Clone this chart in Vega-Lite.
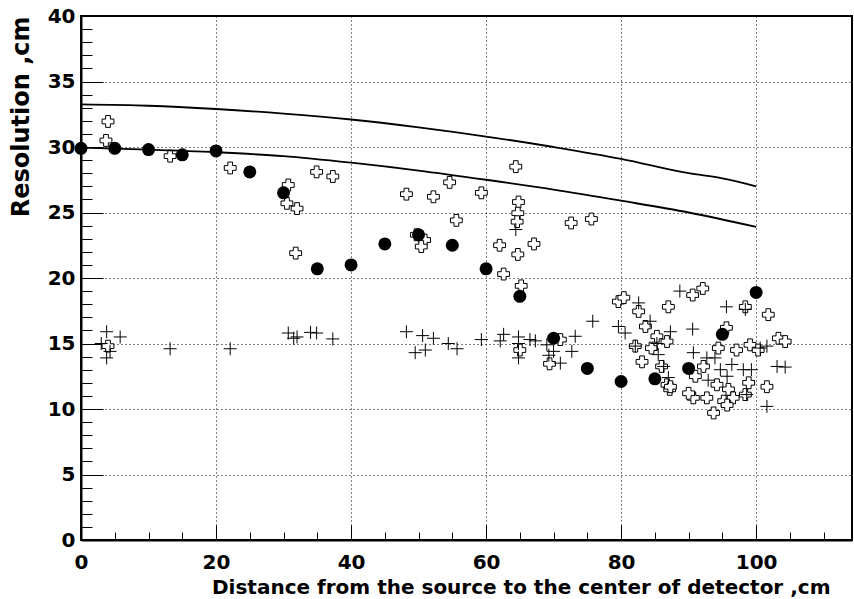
{
  "$schema": "https://vega.github.io/schema/vega-lite/v6.json",
  "width": 771,
  "height": 524,
  "autosize": {"type": "none"},
  "padding": {"left": 81, "top": 16, "right": 2, "bottom": 59},
  "background": "white",
  "config": {"view": {"stroke": "black", "strokeWidth": 2}, "font": "DejaVu Sans"},
  "datasets": {
    "dots": [
      {"x": 0, "y": 29.9}, {"x": 5, "y": 29.9}, {"x": 10, "y": 29.8}, {"x": 15, "y": 29.4},
      {"x": 20, "y": 29.7}, {"x": 25, "y": 28.1}, {"x": 30, "y": 26.5}, {"x": 35, "y": 20.7},
      {"x": 40, "y": 21.0}, {"x": 45, "y": 22.6}, {"x": 50, "y": 23.3}, {"x": 55, "y": 22.5},
      {"x": 60, "y": 20.7}, {"x": 65, "y": 18.6}, {"x": 70, "y": 15.4}, {"x": 75, "y": 13.1},
      {"x": 80, "y": 12.1}, {"x": 85, "y": 12.3}, {"x": 90, "y": 13.1}, {"x": 95, "y": 15.7},
      {"x": 100, "y": 18.9}
    ],
    "open": [
      {"x": 4.0, "y": 31.95}, {"x": 3.7, "y": 30.5}, {"x": 13.2, "y": 29.3}, {"x": 22.1, "y": 28.4},
      {"x": 30.7, "y": 27.1}, {"x": 30.5, "y": 25.7}, {"x": 32.0, "y": 25.3}, {"x": 34.9, "y": 28.1},
      {"x": 37.3, "y": 27.75}, {"x": 31.8, "y": 21.9}, {"x": 48.2, "y": 26.4}, {"x": 52.2, "y": 26.2},
      {"x": 54.6, "y": 27.3}, {"x": 59.3, "y": 26.5}, {"x": 55.6, "y": 24.4}, {"x": 49.7, "y": 23.3},
      {"x": 50.9, "y": 22.9}, {"x": 50.4, "y": 22.4}, {"x": 64.4, "y": 28.5}, {"x": 64.8, "y": 25.8},
      {"x": 64.7, "y": 24.95}, {"x": 64.6, "y": 24.3}, {"x": 62.0, "y": 22.5}, {"x": 67.1, "y": 22.6},
      {"x": 64.7, "y": 21.8}, {"x": 62.6, "y": 20.3}, {"x": 65.2, "y": 19.4}, {"x": 72.6, "y": 24.2},
      {"x": 75.6, "y": 24.5}, {"x": 4.0, "y": 14.8}, {"x": 65.0, "y": 14.5}, {"x": 69.4, "y": 13.45},
      {"x": 71.0, "y": 15.3}, {"x": 79.6, "y": 18.2}, {"x": 80.4, "y": 18.5}, {"x": 82.6, "y": 17.45},
      {"x": 83.6, "y": 16.3}, {"x": 85.3, "y": 15.55}, {"x": 87.0, "y": 17.8}, {"x": 86.8, "y": 15.15},
      {"x": 82.1, "y": 14.8}, {"x": 83.1, "y": 13.6}, {"x": 84.5, "y": 14.65}, {"x": 86.0, "y": 13.25},
      {"x": 86.8, "y": 11.85}, {"x": 87.2, "y": 11.5}, {"x": 90.6, "y": 18.7}, {"x": 92.1, "y": 19.2},
      {"x": 95.6, "y": 16.2}, {"x": 94.4, "y": 14.65}, {"x": 97.1, "y": 14.5}, {"x": 99.1, "y": 14.9},
      {"x": 101.8, "y": 17.2}, {"x": 103.3, "y": 15.4}, {"x": 104.3, "y": 15.15}, {"x": 101.6, "y": 11.7},
      {"x": 98.9, "y": 12.0}, {"x": 98.4, "y": 11.1}, {"x": 95.2, "y": 10.6}, {"x": 93.7, "y": 9.7},
      {"x": 92.7, "y": 10.85}, {"x": 90.7, "y": 10.85}, {"x": 90.0, "y": 11.2}, {"x": 91.0, "y": 12.5},
      {"x": 92.2, "y": 13.25}, {"x": 94.2, "y": 11.85}, {"x": 95.9, "y": 11.5}, {"x": 96.6, "y": 10.85},
      {"x": 95.7, "y": 10.3}, {"x": 98.4, "y": 17.8}, {"x": 100.3, "y": 14.5}, {"x": 87.3, "y": 11.7}
    ],
    "plus": [
      {"x": 3.8, "y": 15.9}, {"x": 5.8, "y": 15.5}, {"x": 3.0, "y": 15.0}, {"x": 4.3, "y": 14.4},
      {"x": 3.8, "y": 13.9}, {"x": 13.2, "y": 14.6}, {"x": 22.1, "y": 14.6}, {"x": 30.7, "y": 15.8},
      {"x": 31.5, "y": 15.4}, {"x": 32.0, "y": 15.5}, {"x": 34.0, "y": 15.85}, {"x": 34.9, "y": 15.8},
      {"x": 37.3, "y": 15.35}, {"x": 48.2, "y": 15.9}, {"x": 50.6, "y": 15.6}, {"x": 52.2, "y": 15.4},
      {"x": 49.5, "y": 14.3}, {"x": 51.0, "y": 14.5}, {"x": 54.4, "y": 15.0}, {"x": 55.7, "y": 14.6},
      {"x": 59.3, "y": 15.3}, {"x": 62.1, "y": 15.2}, {"x": 62.6, "y": 15.7}, {"x": 64.8, "y": 15.5},
      {"x": 64.8, "y": 15.0}, {"x": 64.8, "y": 13.9}, {"x": 66.5, "y": 15.3}, {"x": 67.3, "y": 15.2},
      {"x": 69.0, "y": 14.9}, {"x": 69.3, "y": 14.1}, {"x": 70.0, "y": 14.4}, {"x": 71.0, "y": 13.5},
      {"x": 72.7, "y": 14.4}, {"x": 73.2, "y": 15.55}, {"x": 75.8, "y": 16.7}, {"x": 64.4, "y": 23.7},
      {"x": 79.6, "y": 16.3}, {"x": 80.6, "y": 15.8}, {"x": 82.6, "y": 18.1}, {"x": 84.3, "y": 16.7},
      {"x": 87.3, "y": 15.9}, {"x": 88.7, "y": 19.0}, {"x": 90.6, "y": 16.1}, {"x": 95.6, "y": 17.8},
      {"x": 85.5, "y": 14.15}, {"x": 87.0, "y": 12.4}, {"x": 90.7, "y": 14.3}, {"x": 92.7, "y": 13.9},
      {"x": 93.9, "y": 13.9}, {"x": 94.7, "y": 13.0}, {"x": 96.4, "y": 13.4}, {"x": 98.1, "y": 13.0},
      {"x": 99.3, "y": 13.0}, {"x": 101.6, "y": 14.8}, {"x": 103.1, "y": 13.25}, {"x": 104.3, "y": 13.2},
      {"x": 101.6, "y": 10.2}, {"x": 98.6, "y": 11.1}, {"x": 98.4, "y": 17.6}, {"x": 100.6, "y": 14.65},
      {"x": 92.9, "y": 12.2}, {"x": 95.7, "y": 12.5}, {"x": 85.3, "y": 15.0}, {"x": 82.1, "y": 14.8},
      {"x": 86.3, "y": 13.25}
    ],
    "curves": [
      {"c": "upper", "x": 0, "y": 33.25}, {"c": "upper", "x": 10, "y": 33.15}, {"c": "upper", "x": 20, "y": 32.9},
      {"c": "upper", "x": 30, "y": 32.55}, {"c": "upper", "x": 40, "y": 32.1}, {"c": "upper", "x": 50, "y": 31.5},
      {"c": "upper", "x": 60, "y": 30.8}, {"c": "upper", "x": 70, "y": 30.0}, {"c": "upper", "x": 80, "y": 29.1},
      {"c": "upper", "x": 90, "y": 28.0}, {"c": "upper", "x": 95, "y": 27.6}, {"c": "upper", "x": 100, "y": 27.0},
      {"c": "lower", "x": 0, "y": 29.95}, {"c": "lower", "x": 10, "y": 29.8}, {"c": "lower", "x": 20, "y": 29.6},
      {"c": "lower", "x": 30, "y": 29.3}, {"c": "lower", "x": 40, "y": 28.8}, {"c": "lower", "x": 50, "y": 28.2},
      {"c": "lower", "x": 60, "y": 27.5}, {"c": "lower", "x": 70, "y": 26.75}, {"c": "lower", "x": 80, "y": 25.9},
      {"c": "lower", "x": 90, "y": 25.0}, {"c": "lower", "x": 100, "y": 23.9}
    ]
  },
  "layer": [
    {
      "data": {"name": "open"},
      "mark": {"type": "point", "shape": "cross", "filled": true, "fill": "white", "stroke": "black", "strokeWidth": 1, "size": 140, "opacity": 1},
      "encoding": {
        "x": {
          "field": "x", "type": "quantitative",
          "scale": {"domain": [0, 114.2], "nice": false, "zero": false},
          "axis": {
            "orient": "bottom", "values": [0, 20, 40, 60, 80, 100],
            "grid": true, "gridColor": "black", "gridDash": [1, 3], "gridWidth": 1, "gridOpacity": 1,
            "ticks": true, "tickSize": -15, "tickColor": "black", "tickWidth": 1,
            "domain": true, "domainColor": "black", "domainWidth": 2,
            "labelFont": "DejaVu Sans", "labelFontWeight": "bold", "labelFontSize": 20, "labelColor": "black",
            "labelPadding": 27, "labelFlush": false, "labelOverlap": false, "labelBaseline": "top",
            "title": "Distance from the source to the center of detector ,cm",
            "titleFont": "DejaVu Sans", "titleFontWeight": "bold", "titleFontSize": 20, "titleColor": "black",
            "titleAnchor": "end", "titleAlign": "right", "titleBaseline": "alphabetic", "titleX": 749, "titleY": 53
          }
        },
        "y": {
          "field": "y", "type": "quantitative",
          "scale": {"domain": [0, 40], "nice": false, "zero": false},
          "axis": {
            "orient": "left", "values": [0, 5, 10, 15, 20, 25, 30, 35, 40],
            "grid": true, "gridColor": "black", "gridDash": [1, 3], "gridWidth": 1, "gridOpacity": 1,
            "ticks": true, "tickSize": -22, "tickColor": "black", "tickWidth": 1,
            "domain": true, "domainColor": "black", "domainWidth": 2,
            "labelFont": "DejaVu Sans", "labelFontWeight": "bold", "labelFontSize": 20, "labelColor": "black",
            "labelPadding": 28, "labelFlush": false, "labelOverlap": false,
            "title": "Resolution ,cm",
            "titleFont": "DejaVu Sans", "titleFontWeight": "bold", "titleFontSize": 24, "titleColor": "black",
            "titleAngle": -90, "titleAnchor": "end", "titleAlign": "right", "titleBaseline": "middle", "titleX": -60, "titleY": 0
          }
        }
      }
    },
    {
      "data": {"name": "plus"},
      "mark": {"type": "point", "shape": "M-1,0H1M0,-1V1", "filled": false, "stroke": "black", "strokeWidth": 1, "size": 169, "opacity": 1},
      "encoding": {
        "x": {
          "field": "x", "type": "quantitative",
          "axis": {
            "orient": "bottom", "values": [0, 5, 10, 15, 20, 25, 30, 35, 40, 45, 50, 55, 60, 65, 70, 75, 80, 85, 90, 95, 100, 105, 110],
            "grid": false, "domain": false, "labels": false, "title": null,
            "ticks": true, "tickSize": -8, "tickColor": "black", "tickWidth": 1
          }
        },
        "y": {
          "field": "y", "type": "quantitative",
          "axis": {
            "orient": "left", "values": [0, 1, 2, 3, 4, 5, 6, 7, 8, 9, 10, 11, 12, 13, 14, 15, 16, 17, 18, 19, 20, 21, 22, 23, 24, 25, 26, 27, 28, 29, 30, 31, 32, 33, 34, 35, 36, 37, 38, 39, 40],
            "grid": false, "domain": false, "labels": false, "title": null,
            "ticks": true, "tickSize": -11, "tickColor": "black", "tickWidth": 1
          }
        }
      }
    },
    {
      "data": {"name": "dots"},
      "mark": {"type": "point", "shape": "circle", "filled": true, "color": "black", "size": 169, "opacity": 1},
      "encoding": {
        "x": {"field": "x", "type": "quantitative", "axis": null},
        "y": {"field": "y", "type": "quantitative", "axis": null}
      }
    },
    {
      "data": {"name": "curves"},
      "mark": {"type": "line", "color": "black", "strokeWidth": 1.8, "interpolate": "monotone"},
      "encoding": {
        "x": {"field": "x", "type": "quantitative", "axis": null},
        "y": {"field": "y", "type": "quantitative", "axis": null},
        "detail": {"field": "c"}
      }
    }
  ],
  "resolve": {"axis": {"x": "independent", "y": "independent"}}
}
